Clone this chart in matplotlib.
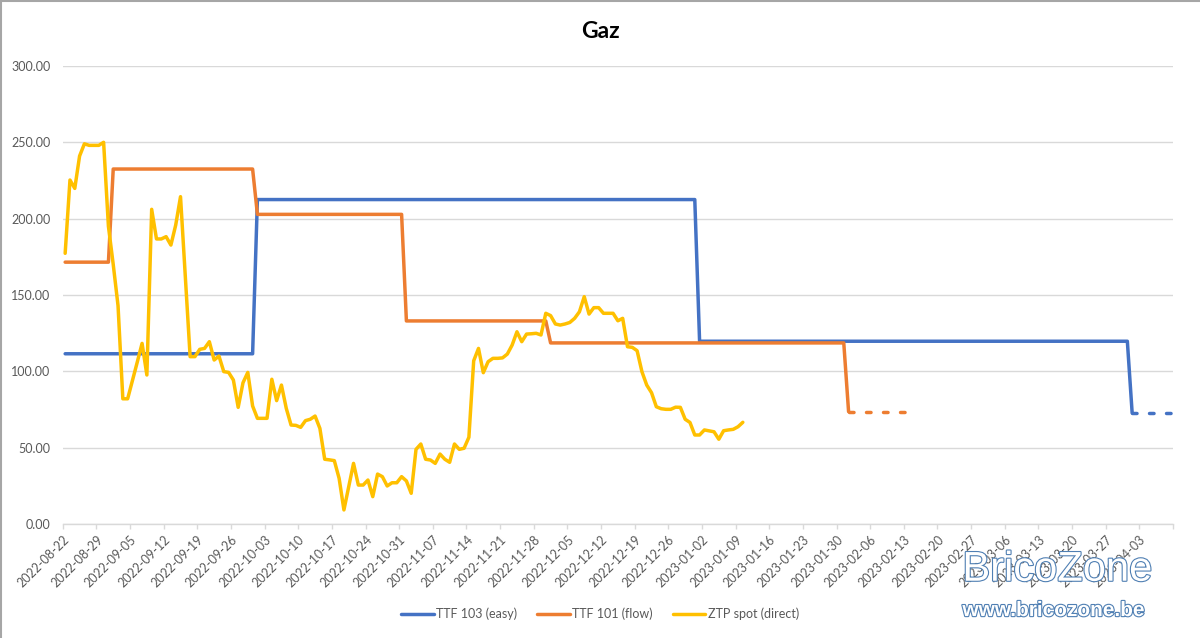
import numpy as np
import pandas as pd
import matplotlib
matplotlib.use("Agg")
import matplotlib.pyplot as plt
import matplotlib.patheffects as pe
from matplotlib.lines import Line2D

plt.rcParams.update({
    "font.family": ["Lato", "DejaVu Sans"],
    "font.size": 9,
})

# TTF 103 (easy): tariff changes (date, level); last level shown dashed
ttf103_dates = ["2022-08-22", "2022-10-01", "2023-01-01", "2023-04-01"]
ttf103_vals = [111.5, 212.5, 119.7, 72.8]
ttf103_end = "2023-04-09"

# TTF 101 (flow)
ttf101_dates = ["2022-08-22", "2022-09-01", "2022-10-01", "2022-11-01", "2022-12-01", "2023-02-01"]
ttf101_vals = [171.5, 232.5, 202.8, 133.0, 118.6, 73.6]
ttf101_end = "2023-02-15"

# ZTP spot (direct), daily from 2022-08-22
ztp_start = "2022-08-22"
ztp_vals = [
    177.3, 225.3, 219.8, 241.0, 249.0, 248.0, 248.0, 248.0, 250.0, 195.0,
    170.0, 143.0, 82.0, 82.0, 94.0, 106.0, 118.3, 97.6, 206.1, 186.7,
    186.7, 188.2, 182.7, 195.8, 214.4, 162.0, 109.6, 109.6, 114.4, 115.0,
    119.4, 107.4, 110.0, 99.8, 99.3, 94.3, 76.4, 92.5, 99.3, 77.3,
    69.2, 69.2, 69.2, 94.8, 80.8, 91.0, 75.8, 64.8, 64.6, 63.3,
    67.7, 68.6, 70.7, 62.6, 42.4, 42.0, 41.5, 29.9, 9.2, 24.4,
    39.7, 25.5, 25.5, 28.8, 17.9, 32.7, 31.0, 24.9, 27.0, 27.0,
    31.0, 28.2, 20.1, 48.9, 52.4, 42.4, 41.9, 39.7, 45.8, 42.4,
    40.4, 52.4, 48.9, 49.6, 56.8, 106.9, 115.0, 99.1, 106.3, 108.5,
    108.5, 108.8, 111.3, 117.2, 125.9, 119.4, 124.4, 124.6, 124.9, 123.8,
    138.0, 136.5, 131.0, 130.3, 131.0, 132.0, 134.7, 139.0, 148.9, 137.5,
    141.7, 141.7, 138.0, 138.0, 138.0, 133.1, 134.7, 116.1, 115.7, 113.5,
    99.8, 91.0, 86.0, 76.8, 75.5, 75.1, 75.1, 76.5, 76.4, 68.6,
    66.5, 58.3, 58.3, 61.6, 61.0, 60.4, 55.5, 61.1, 61.6, 62.0,
    63.7, 66.6,
]

x_start = pd.Timestamp("2022-08-22")
x_end = pd.Timestamp("2023-04-10")
tick_dates = pd.date_range("2022-08-22", "2023-04-03", freq="7D")

blue = "#4472C4"
orange = "#ED7D31"
yellow = "#FFC000"
grey_txt = "#595959"
grid_col = "#D9D9D9"
lw = 2.5


def daily_steps(dates, vals, end):
    s = pd.Series(vals, index=pd.to_datetime(dates))
    return s.reindex(pd.date_range(dates[0], end, freq="D")).ffill()


def mid(idx):
    # Excel date axis: points sit in the middle of each day slot
    return idx + pd.Timedelta(hours=12)


fig = plt.figure(figsize=(12, 6.38), dpi=100)
ax = fig.add_axes([0.0523, 0.1787, 0.9252, 0.7179])

for dates, vals, end, col, lab in [
    (ttf103_dates, ttf103_vals, ttf103_end, blue, "TTF 103 (easy)"),
    (ttf101_dates, ttf101_vals, ttf101_end, orange, "TTF 101 (flow)"),
]:
    s = daily_steps(dates, vals, end)
    last = pd.Timestamp(dates[-1])
    solid = s[s.index <= last]
    dashed = s[s.index >= last]
    ax.plot(mid(solid.index), solid.values, color=col, lw=lw, label=lab,
            solid_joinstyle="round", solid_capstyle="round")
    ax.plot(mid(dashed.index), dashed.values, color=col, lw=lw,
            linestyle=(0, (1.3, 3.6)), dash_capstyle="round")

ztp = pd.Series(ztp_vals, index=pd.date_range(ztp_start, periods=len(ztp_vals), freq="D"))
ax.plot(mid(ztp.index), ztp.values, color=yellow, lw=lw, label="ZTP spot (direct)",
        solid_joinstyle="round", solid_capstyle="round")

ax.set_xlim(x_start, x_end)
ax.set_ylim(0, 300)
ax.set_yticks(np.arange(0, 301, 50))
ax.yaxis.set_major_formatter(matplotlib.ticker.FormatStrFormatter("%.2f"))
ax.set_xticks(list(tick_dates) + [x_end])
ax.set_xticklabels([d.strftime("%Y-%m-%d") for d in tick_dates] + [""],
                   rotation=45, ha="right", rotation_mode="anchor")
ax.grid(axis="y", color=grid_col, lw=1)
ax.set_axisbelow(True)
for sp in ["top", "right", "left"]:
    ax.spines[sp].set_visible(False)
ax.spines["bottom"].set_color(grid_col)
ax.spines["bottom"].set_linewidth(1)
ax.tick_params(axis="y", length=0, pad=9, labelcolor=grey_txt, labelsize=9)
ax.tick_params(axis="x", length=3.5, width=1, color=grid_col, pad=3,
               labelcolor=grey_txt, labelsize=9)

fig.text(0.5, 0.951, "Gaz", ha="center", va="center", fontsize=16.5, fontweight="bold",
         color="black")

ax.legend(loc="center", bbox_to_anchor=(0.5, 0.0376), bbox_transform=fig.transFigure,
          ncol=3, frameon=False, fontsize=9, handlelength=2.6, handletextpad=0.2,
          columnspacing=1.6, labelcolor=grey_txt)

# chart area border (left / top)
fig.add_artist(Line2D([0.001, 0.001], [0, 1], transform=fig.transFigure, color="#A6A6A6", lw=1.5))
fig.add_artist(Line2D([0, 1], [0.999, 0.999], transform=fig.transFigure, color="#A6A6A6", lw=1.5))

# watermark
wm = [pe.withStroke(linewidth=1.6, foreground="#4F7FB3")]
fig.text(0.802, 0.107, "BricoZone", ha="left", va="center", fontsize=30,
         family="Liberation Sans", color="white", path_effects=wm)
fig.text(0.802, 0.043, "www.bricozone.be", ha="left", va="center", fontsize=15,
         family="Liberation Sans", fontweight="bold", color="white", path_effects=wm)

fig.savefig("out.png", dpi=100)
